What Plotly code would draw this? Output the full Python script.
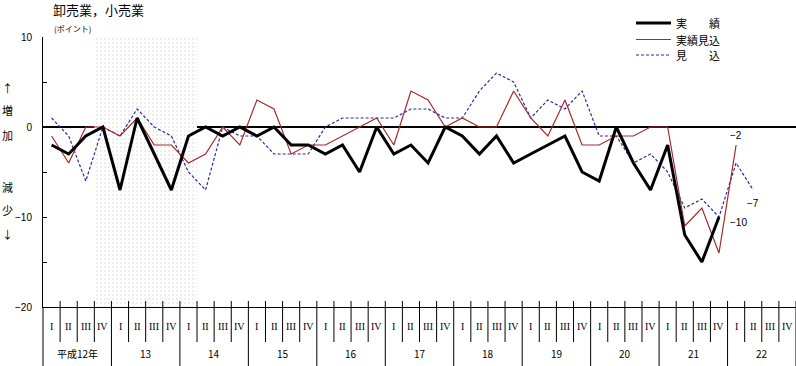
import plotly.graph_objects as go

years = ["平成12年", "13", "14", "15", "16", "17", "18", "19", "20", "21", "22"]
quarters = ["I", "II", "III", "IV"]

actual = [-2, -3, -1, 0, -7, 1, -3, -7, -1, 0, -1, 0, -1, 0, -2, -2,
          -3, -2, -5, 0, -3, -2, -4, 0, -1, -3, -1, -4, -3, -2, -1, -5,
          -6, 0, -4, -7, -2, -12, -15, -10]
actual_est = [-1, -4, 0, 0, -1, 1, -2, -2, -4, -3, 0, -2, 3, 2, -3, -2,
              -2, -1, 0, 1, -2, 4, 3, 0, 1, 0, 0, 4, 1, -1, 3, -2,
              -2, -1, -1, 0, 0, -11, -9, -14, -2]
outlook = [1, -1, -6, 0, -1, 2, 0, -1, -5, -7, 0, -1, -1, -3, -3, -3,
           0, 1, 1, 1, 1, 2, 2, 1, 1, 4, 6, 5, 1, 3, 2, 4,
           -1, -1, -4, -3, -5, -9, -8, -10, -4, -7]
names = ["実　　績", "実績見込", "見　　込"]
shade_start, shade_end = 3, 9  # quarter index boundaries

W, H = 796, 366
ML, MR, MT, MB = 43, 0, 37, 59
PW, PH = W - ML - MR, H - MT - MB

def px(x):
    return (x - ML) / PW

def py(y):
    return (H - MB - y) / PH

nq = len(years) * 4
def xs(n):
    return [i + 0.5 for i in range(n)]

colors = ["black", "#a52a2a", "#2a2aa8"]
widths = [3, 1.2, 1.2]
dashes = ["solid", "solid", "3px,2px"]

fig = go.Figure()

# shaded period
fig.add_trace(go.Scatter(
    x=[shade_start, shade_end, shade_end, shade_start, shade_start],
    y=[-20, -20, 10, 10, -20], mode="lines", line=dict(width=0),
    fill="toself", fillcolor="rgba(0,0,0,0)",
    fillpattern=dict(shape=".", fgcolor="#a8a8a8", bgcolor="white", size=4, solidity=0.12),
    showlegend=False, hoverinfo="skip"))

fig.add_trace(go.Scatter(x=xs(len(outlook)), y=outlook, mode="lines", name=names[2],
                         line=dict(color=colors[2], width=widths[2], dash=dashes[2]),
                         showlegend=False))
fig.add_trace(go.Scatter(x=xs(len(actual_est)), y=actual_est, mode="lines", name=names[1],
                         line=dict(color=colors[1], width=widths[1]), showlegend=False))
fig.add_trace(go.Scatter(x=xs(len(actual)), y=actual, mode="lines", name=names[0],
                         line=dict(color=colors[0], width=widths[0]), showlegend=False))

shapes = []
for k in range(1, nq + 1):
    is_year = (k % 4 == 0)
    shapes.append(dict(type="line", xref="x", yref="paper", x0=k, x1=k,
                       y0=6 / PH, y1=(-59 if is_year else -35) / PH,
                       line=dict(color="black", width=1)))
# left axis extension
shapes.append(dict(type="line", xref="paper", yref="paper", x0=0, x1=0, y0=0, y1=-MB / PH,
                   line=dict(color="black", width=1)))

annotations = []
for yi, yl in enumerate(years):
    for qi, ql in enumerate(quarters):
        annotations.append(dict(x=yi * 4 + qi + 0.5, y=py(327), xref="x", yref="paper",
                                text=ql, showarrow=False, yanchor="middle",
                                font=dict(family="Liberation Serif", size=10, color="black")))
    annotations.append(dict(x=yi * 4 + 2, y=py(353), xref="x", yref="paper",
                            text=yl, showarrow=False, yanchor="middle",
                            font=dict(family="Noto Sans CJK JP", size=10, color="black")))

# legend (custom)
for i, (nm, ly) in enumerate(zip(names, [23, 39.5, 55])):
    shapes.append(dict(type="line", xref="paper", yref="paper", x0=px(636), x1=px(671),
                       y0=py(ly), y1=py(ly),
                       line=dict(color=colors[i], width=widths[i], dash=dashes[i])))
    annotations.append(dict(x=px(674), y=py(ly), xref="paper", yref="paper", text=nm,
                            showarrow=False, xanchor="left", yanchor="middle",
                            font=dict(family="Noto Sans CJK JP", size=11, color="black")))

# end labels
annotations.append(dict(x=len(actual_est) - 0.5, y=actual_est[-1], xref="x", yref="y",
                        text="−" + str(abs(actual_est[-1])), showarrow=False, yshift=10,
                        font=dict(family="Liberation Sans", size=10, color="black")))
annotations.append(dict(x=len(outlook) - 0.5, y=outlook[-1], xref="x", yref="y",
                        text="−" + str(abs(outlook[-1])), showarrow=False, yshift=-13,
                        font=dict(family="Liberation Sans", size=10, color="black")))
annotations.append(dict(x=len(actual) - 0.5, y=actual[-1], xref="x", yref="y",
                        text="−" + str(abs(actual[-1])), showarrow=False, xshift=20, yshift=-5,
                        font=dict(family="Liberation Sans", size=10, color="black")))

# side labels
for txt, yy in [("↑", 88), ("増", 110), ("加", 135), ("減", 187), ("少", 210), ("↓", 234)]:
    annotations.append(dict(x=px(7), y=py(yy), xref="paper", yref="paper", text=txt,
                            showarrow=False, xanchor="center", yanchor="middle",
                            font=dict(family="Noto Sans CJK JP", size=11, color="black")))

annotations.append(dict(x=px(52), y=py(29), xref="paper", yref="paper",
                        text="(ポイント)", showarrow=False, xanchor="left", yanchor="middle",
                        font=dict(family="Noto Sans CJK JP", size=8, color="black")))
annotations.append(dict(x=px(51), y=py(10), xref="paper", yref="paper",
                        text="卸売業，小売業", showarrow=False, xanchor="left", yanchor="middle",
                        font=dict(family="Noto Sans CJK JP", size=13, color="black")))

fig.update_layout(
    width=W, height=H,
    margin=dict(l=ML, r=MR, t=MT, b=MB, autoexpand=False),
    paper_bgcolor="white", plot_bgcolor="white",
    showlegend=False,
    shapes=shapes, annotations=annotations,
    xaxis=dict(range=[0, nq], showgrid=False, zeroline=False, showticklabels=False,
               showline=True, linecolor="black", linewidth=1, ticks=""),
    yaxis=dict(range=[-20, 10], showgrid=False, zeroline=True, zerolinecolor="black",
               zerolinewidth=1.5, showline=True, linecolor="black", linewidth=1,
               tickvals=[-20, -10, 0, 10], ticktext=["−20", "−10", "0", "10"],
               ticks="inside", ticklen=4, tickcolor="black",
               minor=dict(tickvals=[-15, -5, 5], ticks="inside", ticklen=4, tickcolor="black"),
               ticklabelstandoff=8,
               tickfont=dict(family="Liberation Sans", size=10, color="black")),
)

fig.write_html("out.html", config={"displayModeBar": False},
               post_script="document.body.style.margin='0';document.body.style.overflow='hidden';")
